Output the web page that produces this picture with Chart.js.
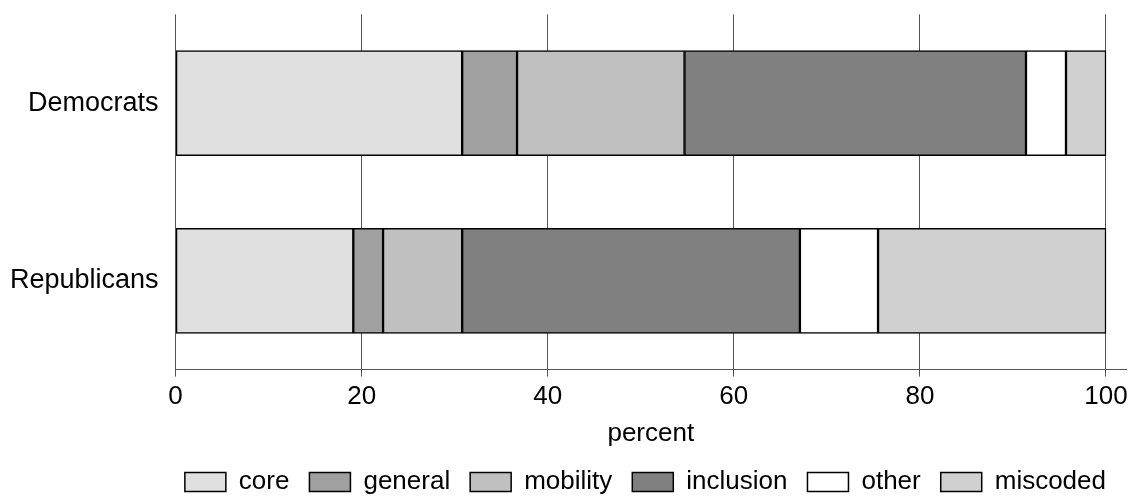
<!DOCTYPE html>
<html>
<head>
<meta charset="utf-8">
<script src="https://cdn.jsdelivr.net/npm/chart.js@4/dist/chart.umd.min.js"></script>
<style>
  html, body { margin: 0; padding: 0; background: #fff; }
  #wrap { width: 1136px; height: 498px; }
</style>
</head>
<body>
<div id="wrap"><canvas id="chart" width="1136" height="498"></canvas></div>
<script>
const parties = ['Democrats', 'Republicans'];
const topics = ['core', 'general', 'mobility', 'inclusion', 'other', 'miscoded'];
const fills = ['#e0e0e0', '#a0a0a0', '#c0c0c0', '#808080', '#ffffff', '#d0d0d0'];

// percent per topic, [Democrats, Republicans]
const core = [30.8, 19.1];
const general = [5.9, 3.2];
const mobility = [18.0, 8.5];
const inclusion = [36.7, 36.3];
const other = [4.3, 8.4];
const miscoded = [4.3, 24.5];
const xTicks = [0, 20, 40, 60, 80, 100];

const series = [core, general, mobility, inclusion, other, miscoded];
const font = "'Liberation Sans', Arial, sans-serif";

const ctx = document.getElementById('chart').getContext('2d');
new Chart(ctx, {
  type: 'bar',
  data: {
    labels: parties,
    datasets: topics.map((t, i) => ({
      label: t,
      data: series[i],
      backgroundColor: fills[i],
      borderColor: '#000',
      borderWidth: 1.5,
      borderSkipped: false,
      barThickness: 105
    }))
  },
  options: {
    indexAxis: 'y',
    responsive: false,
    animation: false,
    layout: { padding: { top: 6, right: 10, left: 1, bottom: -7 } },
    plugins: {
      tooltip: { enabled: false },
      legend: {
        position: 'bottom',
        align: 'end',
        labels: {
          color: '#000',
          font: { family: font, size: 26 },
          boxWidth: 41,
          boxHeight: 19,
          padding: 20
        }
      }
    },
    scales: {
      x: {
        stacked: true,
        min: 0,
        max: 102.15,
        afterBuildTicks: axis => { axis.ticks = xTicks.map(v => ({ value: v })); },
        grid: { color: '#555', lineWidth: 1, drawTicks: true, tickLength: 7, tickColor: '#555' },
        border: { display: true, color: '#555', width: 1 },
        ticks: { color: '#000', font: { family: font, size: 26 }, padding: 5, maxRotation: 0 },
        title: { display: true, text: 'percent', color: '#000', font: { family: font, size: 26 }, padding: { top: 0, bottom: 0 } }
      },
      y: {
        stacked: true,
        grid: { display: false },
        border: { display: false },
        ticks: { color: '#000', font: { family: font, size: 27, lineHeight: 0.4 }, padding: 9 }
      }
    }
  }
});
</script>
</body>
</html>
